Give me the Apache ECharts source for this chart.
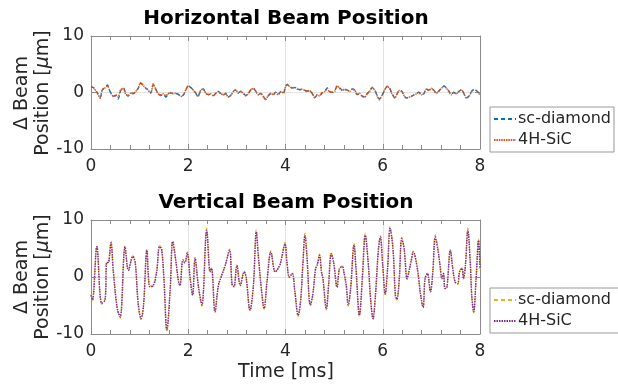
<!DOCTYPE html>
<html>
<head>
<meta charset="utf-8">
<script src="https://cdn.jsdelivr.net/npm/echarts@6/dist/echarts.min.js"></script>
<style>
  html, body { margin: 0; padding: 0; background: #fff; }
  #chart { width: 618px; height: 384px; }
</style>
</head>
<body>
<div id="chart"></div>
<script>
// Horizontal beam position samples (time in ms, position in µm)
const hTime = [0.00,0.06,0.13,0.19,0.23,0.28,0.34,0.39,0.46,0.51,
  0.56,0.61,0.67,0.71,0.76,0.82,0.87,0.92,0.97,1.02,
  1.08,1.13,1.17,1.23,1.28,1.33,1.38,1.43,1.49,1.54,
  1.58,1.64,1.69,1.74,1.79,1.85,1.90,1.95,2.00,2.05,
  2.11,2.15,2.20,2.26,2.31,2.36,2.41,2.46,2.52,2.57,
  2.61,2.67,2.72,2.77,2.82,2.87,2.93,2.98,3.03,3.08,
  3.14,3.18,3.23,3.29,3.34,3.39,3.44,3.49,3.55,3.59,
  3.64,3.70,3.75,3.80,3.85,3.90,3.96,
  3.99,4.03,4.08,4.14,4.19,4.24,4.29,4.34,4.40,4.44,
  4.49,4.55,4.60,4.65,4.70,4.75,4.81,4.86,4.90,4.96,
  5.01,5.06,5.11,5.17,5.22,5.27,5.32,5.37,5.43,5.47,
  5.52,5.58,5.63,5.68,5.73,5.78,5.84,5.89,5.93,5.99,
  6.04,6.09,6.14,6.19,6.25,6.30,6.34,6.39,6.43,6.48,
  6.54,6.59,6.64,6.69,6.74,6.80,6.85,6.89,6.95,7.00,
  7.05,7.10,7.15,7.21,7.26,7.31,7.36,7.41,7.46,7.51,
  7.57,7.62,7.67,7.72,7.77,7.83,7.87,7.92,7.98,8.00];

const hSiC = [1.06,0.76,-0.12,-1.00,0.47,0.76,1.18,0.18,-0.71,-0.41,
  -0.82,0.47,0.76,-0.24,-0.59,-0.12,-0.24,0.18,0.76,1.76,
  1.18,0.76,0.47,-0.12,1.53,0.59,-0.24,-0.41,-0.24,-0.59,
  -0.24,0.00,-0.24,-0.12,-0.24,-0.71,-0.41,0.47,1.18,0.94,
  0.35,-0.12,-0.71,0.47,0.59,-0.12,-0.41,-0.24,-0.59,-0.12,
  0.18,-0.24,-0.41,-0.12,-0.82,-0.59,0.18,0.47,-0.12,0.18,
  -0.24,-0.59,-0.24,0.47,0.76,0.18,-0.41,-0.12,-0.82,-1.29,
  -0.59,-0.12,-0.41,0.00,-0.41,0.18,-0.12,
  0.76,1.53,1.06,0.76,0.94,0.59,0.47,0.59,0.35,0.18,
  0.35,-0.12,-1.00,-0.41,-0.59,-0.12,0.18,0.76,0.18,0.00,
  0.18,1.18,0.76,0.35,0.59,0.47,0.18,0.59,0.35,-0.41,
  -0.12,-0.71,-0.82,-0.24,0.18,0.94,0.35,-0.71,-1.29,-0.41,
  0.47,1.06,0.76,-0.24,-1.00,-0.12,0.35,0.18,-0.41,-1.00,
  -0.82,-0.71,-0.41,-0.24,0.00,-0.41,-0.12,0.59,0.35,0.76,
  0.35,-0.12,0.18,0.76,1.18,0.76,0.18,-0.41,0.00,-0.24,
  0.18,0.47,-0.24,-1.00,-0.71,0.18,0.47,0.35,-0.24,-0.41];

const hDiamond = [0.94,0.82,-0.06,-0.88,0.41,0.88,1.35,0.24,-0.65,-0.53,
  -1.18,0.35,0.82,-0.18,-0.65,-0.06,-0.18,0.24,0.71,1.65,
  1.29,0.71,0.53,-0.06,1.41,0.65,-0.18,-0.53,-0.35,-0.82,
  -0.41,-0.06,-0.18,-0.18,-0.29,-0.65,-0.47,0.41,1.24,0.88,
  0.41,-0.06,-0.65,0.41,0.65,-0.18,-0.35,-0.29,-0.53,-0.06,
  0.24,-0.18,-0.47,-0.18,-0.76,-0.53,0.24,0.41,-0.06,0.24,
  -0.18,-0.53,-0.29,0.53,0.71,0.24,-0.35,-0.18,-0.76,-1.18,
  -0.65,-0.18,-0.35,0.06,-0.35,0.12,-0.18,
  0.82,1.41,1.12,0.82,0.88,0.65,0.53,0.53,0.41,0.24,
  0.29,-0.18,-0.94,-0.47,-0.53,-0.06,0.24,0.82,0.24,0.06,
  0.24,1.12,0.82,0.41,0.53,0.41,0.24,0.65,0.41,-0.35,
  -0.18,-0.65,-0.76,-0.18,0.24,0.88,0.41,-0.65,-1.18,-0.47,
  0.41,1.12,0.82,-0.18,-0.94,-0.18,0.41,0.24,-0.35,-0.94,
  -0.88,-0.65,-0.47,-0.18,0.06,-0.35,-0.18,0.65,0.41,0.71,
  0.41,-0.06,0.24,0.82,1.12,0.82,0.24,-0.35,0.06,-0.18,
  0.24,0.53,-0.18,-0.94,-0.65,0.24,0.53,0.41,-0.18,-0.35];

// Vertical beam position samples (time in ms, position in µm)
const vTime = [0.00,0.03,0.12,0.22,0.29,0.32,0.36,0.41,0.46,0.54,
  0.60,0.70,0.77,0.86,0.91,0.97,1.03,1.08,1.15,1.21,
  1.28,1.35,1.41,1.45,1.50,1.56,1.63,1.68,1.75,1.80,
  1.83,1.89,1.93,1.98,2.04,2.09,2.14,2.21,2.28,2.38,
  2.45,2.48,2.55,2.62,2.69,2.76,2.85,2.90,2.94,3.00,
  3.07,3.15,3.19,3.27,3.34,3.40,3.44,3.51,3.56,3.62,
  3.70,3.79,3.88,3.92,3.99,4.03,4.08,4.14,4.19,4.26,
  4.31,4.36,4.40,4.44,4.51,4.56,4.62,4.65,4.70,4.74,
  4.77,4.84,4.89,4.94,4.99,5.06,5.11,5.17,5.20,5.25,
  5.29,5.34,5.41,5.45,5.52,5.58,5.64,5.70,5.75,5.80,
  5.85,5.91,5.95,6.00,6.05,6.10,6.15,6.21,6.26,6.29,
  6.34,6.39,6.44,6.50,6.53,6.58,6.63,6.69,6.74,6.77,
  6.83,6.87,6.92,6.98,7.03,7.08,7.13,7.17,7.22,7.25,
  7.28,7.32,7.39,7.44,7.49,7.54,7.58,7.63,7.66,7.70,
  7.75,7.80,7.83,7.87,7.92,7.97,8.00];

const vSiC = [-3.2,-4.0,5.3,-4.6,-4.0,2.5,2.6,6.0,0.9,-5.5,
  -7.0,5.3,1.2,3.6,2.5,-4.6,-7.3,-5.0,4.7,-1.7,
  -1.5,0.9,5.3,5.0,-0.3,-9.3,-2.0,6.2,2.5,-0.8,
  -1.5,3.0,2.5,4.2,-0.3,-3.2,3.3,-1.7,-4.9,8.2,
  0.9,1.5,-6.1,-1.5,0.3,2.0,4.7,-1.2,-1.7,2.0,
  -1.5,0.9,0.0,-5.8,-1.5,7.9,3.9,-2.6,-5.5,-0.8,
  4.4,0.9,2.0,3.3,5.8,2.6,0.0,0.6,-2.3,-6.7,
  -4.3,2.6,7.3,3.8,-4.9,-3.2,1.5,2.0,3.8,0.9,
  -0.3,-5.6,-0.9,4.1,2.6,-1.8,1.5,1.8,0.9,-1.5,
  -4.9,-2.0,5.6,1.5,-6.7,-0.3,7.3,2.6,-3.8,-7.3,
  -3.2,4.7,7.0,2.0,-3.0,1.5,8.5,5.0,-3.2,-3.9,
  -0.3,6.7,5.0,-0.3,0.6,2.6,4.4,2.6,-0.3,-2.6,
  -5.3,-0.3,0.6,-2.6,0.9,7.0,5.0,2.6,-0.3,0.6,
  -2.0,-1.8,4.7,1.5,-0.9,-1.2,0.9,1.5,-0.3,2.0,
  8.2,2.6,-3.2,-6.1,-0.3,6.4,1.5];

const vDiamond = [-3.0,-4.2,5.5,-4.8,-3.8,2.6,2.5,6.3,0.8,-5.7,
  -7.2,5.4,1.1,3.7,2.4,-4.8,-7.5,-5.1,4.9,-1.6,
  -1.6,1.0,5.5,5.1,-0.4,-9.6,-1.9,6.4,2.4,-0.9,
  -1.4,3.1,2.4,4.4,-0.4,-3.3,3.4,-1.8,-5.1,8.6,
  0.8,1.6,-6.3,-1.4,0.4,2.1,4.9,-1.3,-1.8,2.1,
  -1.4,1.0,-0.1,-6.0,-1.4,8.3,3.8,-2.7,-5.7,-0.7,
  4.6,0.8,2.1,3.4,6.1,2.5,-0.1,0.7,-2.4,-6.9,
  -4.2,2.7,7.7,3.7,-5.1,-3.1,1.6,2.1,4.0,0.8,
  -0.4,-5.8,-0.8,4.3,2.5,-1.9,1.6,1.9,0.8,-1.6,
  -5.1,-1.9,5.9,1.4,-6.9,-0.2,7.7,2.5,-3.9,-7.5,
  -3.1,4.9,7.3,1.9,-3.2,1.6,8.9,5.1,-3.3,-4.1,
  -0.2,7.0,5.1,-0.4,0.7,2.7,4.6,2.5,-0.4,-2.7,
  -5.5,-0.2,0.7,-2.7,1.0,7.4,5.1,2.5,-0.4,0.7,
  -2.1,-1.7,4.9,1.4,-1.0,-1.3,1.0,1.6,-0.2,2.1,
  8.6,2.5,-3.3,-6.3,-0.2,6.7,1.4];

const xTicks = [0, 2, 4, 6, 8];
const yTicks = [-10, 0, 10];

const FONT = 'DejaVu Sans';
const FRAME = '#8c8c8c';
const GRIDLINE = '#e3e3e3';
const TEXT = '#262626';

const chart = echarts.init(document.getElementById('chart'), null, { renderer: 'canvas' });

const grids = [
  { left: 91, top: 36, width: 389, height: 113 },
  { left: 91, top: 220, width: 389, height: 114 }
];

function xAxes(gridIndex) {
  const base = {
    gridIndex, type: 'value', min: xTicks[0], max: xTicks[xTicks.length - 1],
    interval: xTicks[1] - xTicks[0],
    axisLine: { show: true, onZero: false, lineStyle: { color: FRAME, width: 1 } },
    axisTick: { show: true, inside: true, length: 5, lineStyle: { color: FRAME } },
    minorTick: { show: true, splitNumber: 5, length: 4, lineStyle: { color: FRAME } }
  };
  return [
    Object.assign({}, base, {
      position: 'bottom',
      axisLabel: { show: true, color: TEXT, fontSize: 17, fontFamily: FONT, margin: 9 },
      splitLine: { show: true, lineStyle: { color: GRIDLINE, width: 1 } }
    }),
    Object.assign({}, base, {
      position: 'top',
      axisLabel: { show: false },
      splitLine: { show: false }
    })
  ];
}

function yAxes(gridIndex) {
  const base = {
    gridIndex, type: 'value', min: yTicks[0], max: yTicks[yTicks.length - 1],
    interval: yTicks[1] - yTicks[0],
    axisLine: { show: true, onZero: false, lineStyle: { color: FRAME, width: 1 } },
    axisTick: { show: true, inside: true, length: 5, lineStyle: { color: FRAME } }
  };
  return [
    Object.assign({}, base, {
      position: 'left',
      axisLabel: { show: true, color: TEXT, fontSize: 17, fontFamily: FONT, margin: 7 },
      splitLine: { show: true, lineStyle: { color: GRIDLINE, width: 1 } }
    }),
    Object.assign({}, base, {
      position: 'right',
      axisLabel: { show: false },
      splitLine: { show: false }
    })
  ];
}

function pairs(t, v) { return t.map((x, i) => [x, v[i]]); }

function lineSeries(name, axisBase, data, color, type, width, smooth) {
  return {
    name, type: 'line', xAxisIndex: axisBase, yAxisIndex: axisBase,
    data, showSymbol: false, symbol: 'none', smooth: smooth,
    lineStyle: { color, width, type },
    itemStyle: { color },
    emphasis: { disabled: true },
    animation: false
  };
}

function legendAt(top, names) {
  return {
    data: names, orient: 'vertical', left: 490, top,
    itemWidth: 22, itemHeight: 12, itemGap: 5,
    padding: [4, 3, 4, 3],
    borderColor: '#999', borderWidth: 1,
    backgroundColor: '#fff',
    itemStyle: { opacity: 0 },
    textStyle: { color: TEXT, fontSize: 16, fontFamily: FONT, padding: [0, 0, 0, -3] },
    selectedMode: false
  };
}

const titleStyle = { color: '#000', fontSize: 20, fontWeight: 'bold', fontFamily: FONT };

function axisNameText(cx, cy, text) {
  return {
    type: 'text', x: cx, y: cy, rotation: Math.PI / 2,
    style: {
      text, fill: TEXT, font: '19px "DejaVu Sans"',
      align: 'center', verticalAlign: 'middle',
      rich: { i: { fontStyle: 'italic', fontSize: 19, fontFamily: FONT, fill: TEXT } }
    }
  };
}

const option = {
  backgroundColor: '#fff',
  animation: false,
  title: [
    { text: 'Horizontal Beam Position', left: 286, top: 9, textAlign: 'center', padding: 0, textStyle: titleStyle },
    { text: 'Vertical Beam Position', left: 286, top: 193, textAlign: 'center', padding: 0, textStyle: titleStyle }
  ],
  grid: grids.map(g => Object.assign({ show: false, containLabel: false }, g)),
  xAxis: xAxes(0).concat(xAxes(1)),
  yAxis: yAxes(0).concat(yAxes(1)),
  legend: [
    legendAt(107, ['sc-diamond', '4H-SiC']),
    legendAt(288, ['sc-diamond ', '4H-SiC '])
  ],
  series: [
    lineSeries('sc-diamond', 0, pairs(hTime, hDiamond), '#0072BD', [4, 3], 1.3, 0.2),
    lineSeries('4H-SiC', 0, pairs(hTime, hSiC), '#D95319', [1.5, 0.9], 1.5, 0.2),
    lineSeries('sc-diamond ', 2, pairs(vTime, vDiamond), '#EDB120', [4, 3], 1.2, 0.35),
    lineSeries('4H-SiC ', 2, pairs(vTime, vSiC), '#7E2F8E', [1.5, 1.0], 1.5, 0.35)
  ],
  graphic: [
    axisNameText(22, 93, 'Δ Beam'),
    axisNameText(43, 93, 'Position [{i|μ}m]'),
    axisNameText(22, 277, 'Δ Beam'),
    axisNameText(43, 277, 'Position [{i|μ}m]'),
    {
      type: 'text', x: 286, y: 372,
      style: { text: 'Time [ms]', fill: TEXT, font: '19px "DejaVu Sans"', align: 'center', verticalAlign: 'middle' }
    }
  ]
};

chart.setOption(option);
</script>
</body>
</html>
